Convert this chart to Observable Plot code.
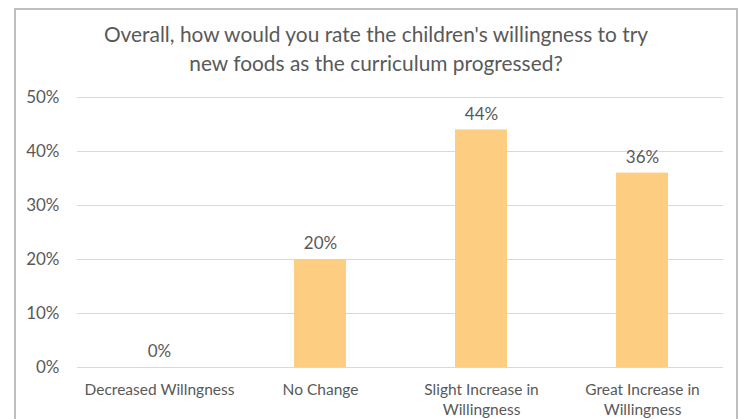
<!DOCTYPE html>
<html>
<head>
<meta charset="utf-8">
<script src="https://cdn.jsdelivr.net/npm/d3@7"></script>
<script src="https://cdn.jsdelivr.net/npm/@observablehq/plot@0.6"></script>
<style>
  html, body { margin: 0; padding: 0; background: #fff; }
  #wrap { position: relative; width: 744px; height: 419px; overflow: hidden; font-family: Lato, "Open Sans", sans-serif; }
  #border { position: absolute; left: 14px; top: 8px; width: 724px; height: 430px; border: 2px solid #BFBFBF; box-sizing: border-box; }
  #title { position: relative; height: 85px; width: 744px; text-align: center; color: #595959; font-size: 20.9px; line-height: 29px; padding-top: 19px; box-sizing: border-box; }
  #title div { position: relative; left: 4px; }
  #chart { position: relative; }
</style>
</head>
<body>
<div id="wrap">
  <div id="border"></div>
  <div id="title"><div>Overall, how would you rate the children's willingness to try<br>new foods as the curriculum progressed?</div></div>
  <div id="chart"></div>
</div>
<script>
const categories = ["Decreased Willngness", "No Change", "Slight Increase in Willingness", "Great Increase in Willingness"];
const tickLabels = ["Decreased Willngness", "No Change", "Slight Increase in\nWillingness", "Great Increase in\nWillingness"];
const values = [0.00, 0.20, 0.44, 0.36];
const yTicks = [0, 0.1, 0.2, 0.3, 0.4, 0.5];

const data = categories.map((c, i) => ({category: c, value: values[i]}));
const labelOf = new Map(categories.map((c, i) => [c, tickLabels[i]]));
const pct = d3.format(".0%");
const textColor = "#595959";

const chart = Plot.plot({
  width: 744,
  height: 334,
  marginTop: 12,
  marginBottom: 52,
  marginLeft: 77,
  marginRight: 21,
  style: {fontFamily: "Lato, 'Open Sans', sans-serif", color: textColor, background: "transparent", overflow: "visible"},
  x: {domain: categories, paddingInner: 0.678, paddingOuter: 0.339, label: null},
  y: {domain: [0, 0.5], label: null},
  marks: [
    Plot.ruleY(yTicks, {stroke: "#D9D9D9", strokeWidth: 1}),
    Plot.barY(data, {x: "category", y: "value", fill: "#FDCD82"}),
    Plot.text(data, {x: "category", y: "value", text: d => pct(d.value), dy: -15.5, fontSize: 17, fill: textColor}),
    Plot.axisY({ticks: yTicks, tickFormat: pct, tickSize: 0, tickPadding: 18, fontSize: 17, label: null}),
    Plot.axisX({tickSize: 0, tickPadding: 13, fontSize: 15.5, lineHeight: 1.32, tickFormat: d => labelOf.get(d), label: null})
  ]
});
document.getElementById("chart").appendChild(chart);
</script>
</body>
</html>
